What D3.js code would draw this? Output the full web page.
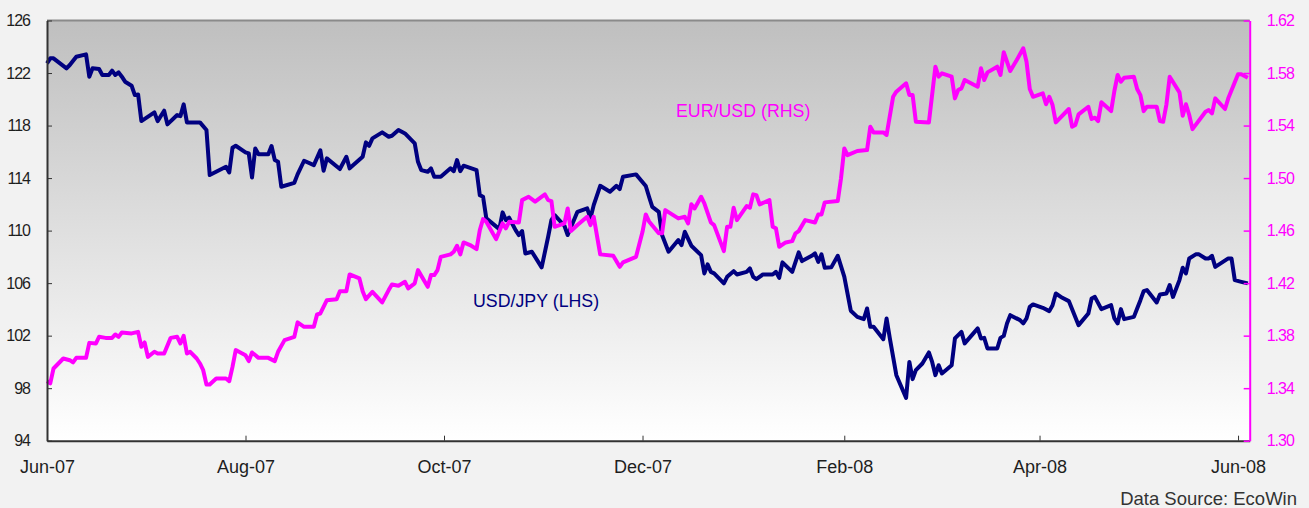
<!DOCTYPE html>
<html>
<head>
<meta charset="utf-8">
<script src="https://cdn.jsdelivr.net/npm/d3@7"></script>
<style>
  html, body { margin: 0; padding: 0; background: #f2f2f2; }
  svg { display: block; font-family: "Liberation Sans", Arial, sans-serif; }
  .axis text { fill: #1e1e1e; }
  .axis path, .axis line { stroke: #333; }
</style>
</head>
<body>
<div id="chart"></div>
<script>
// USD/JPY, left axis
var jpyDates = [
  "2007-06-01","2007-06-02","2007-06-03","2007-06-07","2007-06-08","2007-06-10","2007-06-13","2007-06-14","2007-06-15","2007-06-17",
  "2007-06-18","2007-06-20","2007-06-21","2007-06-22","2007-06-23","2007-06-24","2007-06-25","2007-06-27","2007-06-28","2007-06-29",
  "2007-06-30","2007-07-04","2007-07-05","2007-07-07","2007-07-08","2007-07-11","2007-07-12","2007-07-13","2007-07-14","2007-07-18",
  "2007-07-20","2007-07-21","2007-07-26","2007-07-27","2007-07-28","2007-07-29","2007-08-01","2007-08-02","2007-08-03","2007-08-04",
  "2007-08-05","2007-08-08","2007-08-09","2007-08-10","2007-08-11","2007-08-12","2007-08-16","2007-08-17","2007-08-19","2007-08-22",
  "2007-08-24","2007-08-25","2007-08-26","2007-08-30","2007-09-01","2007-09-02","2007-09-06","2007-09-07","2007-09-08","2007-09-09",
  "2007-09-12","2007-09-14","2007-09-15","2007-09-17","2007-09-19","2007-09-22","2007-09-23","2007-09-24","2007-09-26","2007-09-27",
  "2007-09-28","2007-09-30","2007-10-03","2007-10-04","2007-10-05","2007-10-06","2007-10-07","2007-10-11","2007-10-12","2007-10-13",
  "2007-10-14","2007-10-18","2007-10-19","2007-10-20","2007-10-21","2007-10-23","2007-10-24","2007-10-25","2007-10-26","2007-10-28",
  "2007-10-31","2007-11-02","2007-11-03","2007-11-04","2007-11-07","2007-11-08","2007-11-11","2007-11-14","2007-11-15","2007-11-16",
  "2007-11-18","2007-11-21","2007-11-23","2007-11-24","2007-11-25","2007-11-29","2007-11-30","2007-12-02","2007-12-03","2007-12-04",
  "2007-12-06","2007-12-07","2007-12-09","2007-12-12","2007-12-13","2007-12-14","2007-12-16","2007-12-19","2007-12-20","2007-12-21",
  "2007-12-22","2007-12-23","2007-12-26","2007-12-27","2007-12-29","2007-12-30","2008-01-02","2008-01-03","2008-01-04","2008-01-05",
  "2008-01-07","2008-01-10","2008-01-11","2008-01-12","2008-01-13","2008-01-16","2008-01-18","2008-01-19","2008-01-22","2008-01-23",
  "2008-01-24","2008-01-25","2008-01-26","2008-01-28","2008-01-30","2008-02-01","2008-02-03","2008-02-05","2008-02-07","2008-02-08",
  "2008-02-09","2008-02-10","2008-02-13","2008-02-14","2008-02-15","2008-02-17","2008-02-20","2008-02-21","2008-02-22","2008-02-23",
  "2008-02-25","2008-02-27","2008-02-28","2008-02-29","2008-03-01","2008-03-02","2008-03-05","2008-03-06","2008-03-08","2008-03-09",
  "2008-03-13","2008-03-14","2008-03-15","2008-03-16","2008-03-19","2008-03-20","2008-03-21","2008-03-22","2008-03-23","2008-03-26",
  "2008-03-27","2008-03-28","2008-03-29","2008-03-30","2008-04-02","2008-04-04","2008-04-05","2008-04-06","2008-04-08","2008-04-10",
  "2008-04-13","2008-04-16","2008-04-17","2008-04-18","2008-04-20","2008-04-23","2008-04-24","2008-04-25","2008-04-26","2008-04-27",
  "2008-04-30","2008-05-01","2008-05-02","2008-05-03","2008-05-04","2008-05-07","2008-05-08","2008-05-10","2008-05-11","2008-05-12",
  "2008-05-14","2008-05-15","2008-05-16","2008-05-17","2008-05-19","2008-05-20","2008-05-22","2008-05-23","2008-05-24","2008-05-25",
  "2008-05-29","2008-05-30","2008-05-31","2008-06-02","2008-06-04"
];
var jpyValues = [
  122.74,123.12,123.12,122.36,122.61,123.24,123.42,121.72,122.36,122.30,
  121.85,121.85,122.18,121.85,122.05,121.72,121.34,121.03,120.32,120.37,
  118.34,119.00,118.34,119.13,118.09,118.80,118.72,119.61,118.24,118.24,
  117.66,114.23,114.86,114.43,116.31,116.46,115.96,115.88,114.05,116.26,
  115.81,115.81,116.44,115.37,115.24,113.34,113.64,114.28,115.32,114.99,
  116.11,114.56,115.50,114.69,115.62,114.74,115.62,116.72,116.46,117.02,
  117.48,117.15,117.22,117.66,117.40,116.64,115.24,114.61,114.48,114.74,
  114.10,114.10,114.74,114.53,115.37,114.53,114.94,114.60,112.70,112.58,
  110.93,110.11,111.39,110.80,110.98,110.04,109.66,109.96,108.26,108.39,
  107.20,109.53,110.80,111.18,110.37,109.66,111.43,111.69,110.93,111.94,
  113.41,112.96,113.41,113.16,114.10,114.28,113.98,113.40,112.58,111.81,
  111.43,109.66,108.39,109.28,108.90,109.91,108.85,108.13,106.74,107.43,
  106.86,106.74,105.98,106.48,106.91,106.66,106.86,107.12,106.48,106.30,
  106.66,106.66,106.86,106.40,107.58,106.86,108.34,107.68,108.08,108.26,
  107.62,108.19,107.17,107.20,108.08,106.50,103.90,103.43,103.26,104.07,
  102.67,102.67,101.73,103.31,101.79,98.99,97.26,100.00,98.69,99.37,
  99.88,100.72,100.00,98.99,99.75,99.12,99.75,101.79,102.29,101.41,
  102.55,101.79,101.83,101.02,101.02,101.83,101.98,102.93,103.56,103.18,
  102.93,103.31,104.19,104.38,104.12,103.87,104.32,105.21,104.88,104.63,
  102.80,103.69,104.83,104.95,104.02,104.32,103.31,102.93,104.02,103.26,
  103.43,104.07,104.70,105.39,105.47,104.53,105.14,105.21,105.85,104.95,
  106.23,107.17,106.74,107.88,108.19,108.19,107.88,107.88,108.08,107.24,
  107.88,107.88,106.23,106.10,105.98
];

// EUR/USD, right axis
var eurDates = [
  "2007-06-01","2007-06-02","2007-06-03","2007-06-06","2007-06-08","2007-06-09","2007-06-10","2007-06-13","2007-06-14","2007-06-16",
  "2007-06-17","2007-06-19","2007-06-21","2007-06-22","2007-06-23","2007-06-24","2007-06-27","2007-06-29","2007-06-30","2007-07-01",
  "2007-07-02","2007-07-04","2007-07-05","2007-07-07","2007-07-09","2007-07-11","2007-07-12","2007-07-13","2007-07-14","2007-07-15",
  "2007-07-17","2007-07-18","2007-07-19","2007-07-20","2007-07-21","2007-07-23","2007-07-26","2007-07-27","2007-07-28","2007-07-29",
  "2007-08-01","2007-08-02","2007-08-03","2007-08-05","2007-08-08","2007-08-10","2007-08-11","2007-08-13","2007-08-16","2007-08-17",
  "2007-08-19","2007-08-22","2007-08-23","2007-08-24","2007-08-26","2007-08-29","2007-08-30","2007-09-01","2007-09-02","2007-09-05",
  "2007-09-06","2007-09-07","2007-09-09","2007-09-12","2007-09-14","2007-09-15","2007-09-17","2007-09-19","2007-09-20","2007-09-22",
  "2007-09-23","2007-09-26","2007-09-27","2007-09-28","2007-09-29","2007-09-30","2007-10-03","2007-10-04","2007-10-05","2007-10-06",
  "2007-10-07","2007-10-09","2007-10-11","2007-10-12","2007-10-13","2007-10-14","2007-10-17","2007-10-19","2007-10-20","2007-10-21",
  "2007-10-24","2007-10-25","2007-10-27","2007-10-29","2007-11-01","2007-11-02","2007-11-03","2007-11-04","2007-11-07","2007-11-08",
  "2007-11-09","2007-11-11","2007-11-14","2007-11-15","2007-11-16","2007-11-18","2007-11-22","2007-11-24","2007-11-25","2007-11-29",
  "2007-12-01","2007-12-02","2007-12-03","2007-12-06","2007-12-07","2007-12-08","2007-12-12","2007-12-14","2007-12-15","2007-12-16",
  "2007-12-17","2007-12-19","2007-12-20","2007-12-22","2007-12-23","2007-12-26","2007-12-27","2007-12-28","2007-12-29","2007-12-30",
  "2008-01-02","2008-01-03","2008-01-04","2008-01-05","2008-01-06","2008-01-09","2008-01-10","2008-01-11","2008-01-12","2008-01-14",
  "2008-01-16","2008-01-17","2008-01-18","2008-01-20","2008-01-23","2008-01-24","2008-01-25","2008-01-26","2008-01-30","2008-01-31",
  "2008-02-01","2008-02-02","2008-02-05","2008-02-08","2008-02-09","2008-02-10","2008-02-13","2008-02-14","2008-02-16","2008-02-17",
  "2008-02-20","2008-02-21","2008-02-22","2008-02-23","2008-02-27","2008-02-29","2008-03-01","2008-03-02","2008-03-05","2008-03-06",
  "2008-03-07","2008-03-08","2008-03-09","2008-03-13","2008-03-14","2008-03-15","2008-03-16","2008-03-19","2008-03-20","2008-03-21",
  "2008-03-23","2008-03-25","2008-03-27","2008-03-28","2008-03-29","2008-03-30","2008-04-02","2008-04-03","2008-04-04","2008-04-05",
  "2008-04-06","2008-04-10","2008-04-11","2008-04-12","2008-04-13","2008-04-16","2008-04-17","2008-04-18","2008-04-19","2008-04-20",
  "2008-04-23","2008-04-24","2008-04-25","2008-04-26","2008-04-27","2008-04-30","2008-05-01","2008-05-02","2008-05-03","2008-05-04",
  "2008-05-07","2008-05-08","2008-05-09","2008-05-10","2008-05-11","2008-05-14","2008-05-15","2008-05-16","2008-05-17","2008-05-18",
  "2008-05-22","2008-05-23","2008-05-24","2008-05-25","2008-05-28","2008-05-29","2008-06-01","2008-06-02","2008-06-04"
];
var eurValues = [
  1.3453,1.3436,1.3550,1.3626,1.3613,1.3596,1.3631,1.3631,1.3745,1.3740,
  1.3791,1.3783,1.3783,1.3809,1.3791,1.3824,1.3817,1.3829,1.3715,1.3748,
  1.3638,1.3677,1.3664,1.3664,1.3783,1.3791,1.3740,1.3799,1.3664,1.3677,
  1.3626,1.3588,1.3537,1.3428,1.3428,1.3474,1.3474,1.3453,1.3562,1.3690,
  1.3651,1.3606,1.3672,1.3631,1.3631,1.3606,1.3677,1.3766,1.3791,1.3901,
  1.3867,1.3867,1.3962,1.3969,1.4070,1.4078,1.4139,1.4139,1.4266,1.4236,
  1.4139,1.4078,1.4134,1.4053,1.4147,1.4190,1.4180,1.4210,1.4160,1.4198,
  1.4299,1.4172,1.4261,1.4261,1.4299,1.4400,1.4419,1.4439,1.4484,1.4419,
  1.4510,1.4490,1.4459,1.4604,1.4688,1.4667,1.4535,1.4655,1.4617,1.4667,
  1.4662,1.4832,1.4858,1.4820,1.4876,1.4832,1.4825,1.4629,1.4655,1.4769,
  1.4596,1.4642,1.4705,1.4642,1.4705,1.4419,1.4408,1.4324,1.4358,1.4400,
  1.4591,1.4723,1.4670,1.4579,1.4579,1.4756,1.4693,1.4705,1.4655,1.4800,
  1.4769,1.4858,1.4807,1.4662,1.4642,1.4444,1.4629,1.4629,1.4774,1.4680,
  1.4787,1.4774,1.4876,1.4870,1.4800,1.4832,1.4629,1.4617,1.4477,1.4510,
  1.4520,1.4579,1.4596,1.4680,1.4662,1.4723,1.4723,1.4815,1.4825,1.4998,
  1.5226,1.5175,1.5206,1.5213,1.5391,1.5348,1.5348,1.5328,1.5619,1.5658,
  1.5722,1.5632,1.5632,1.5429,1.5424,1.5848,1.5772,1.5798,1.5772,1.5607,
  1.5670,1.5683,1.5747,1.5696,1.5836,1.5747,1.5805,1.5848,1.5785,1.5958,
  1.5815,1.5899,1.5988,1.5886,1.5678,1.5619,1.5645,1.5562,1.5619,1.5556,
  1.5424,1.5526,1.5391,1.5404,1.5485,1.5543,1.5450,1.5460,1.5434,1.5577,
  1.5510,1.5663,1.5785,1.5734,1.5764,1.5772,1.5678,1.5632,1.5510,1.5543,
  1.5543,1.5434,1.5429,1.5562,1.5772,1.5653,1.5475,1.5562,1.5480,1.5373,
  1.5505,1.5518,1.5493,1.5607,1.5526,1.5607,1.5790,1.5790,1.5764
];

var leftTicks  = [94, 98, 102, 106, 110, 114, 118, 122, 126];
var rightTicks = [1.30, 1.34, 1.38, 1.42, 1.46, 1.50, 1.54, 1.58, 1.62];
var monthTicks = ["2007-06-01","2007-08-01","2007-10-01","2007-12-01","2008-02-01","2008-04-01","2008-06-01"];

const width = 1309;
const height = 508;
const plotLeft = 47, plotRight = 1249.7, plotTop = 20.5, plotBottom = 440.7;

var parseDate = d3.timeParse("%Y-%m-%d");

var jpyData = jpyDates.map(function(d, i) { return { date: parseDate(d), value: jpyValues[i] }; });
var eurData = eurDates.map(function(d, i) { return { date: parseDate(d), value: eurValues[i] }; });

var xScale = d3.scaleTime()
    .domain([new Date(2007, 5, 1), new Date(2008, 5, 4, 14)])
    .range([plotLeft, plotRight]);
var yLeft = d3.scaleLinear().domain([94, 126]).range([plotBottom, plotTop]);
var yRight = d3.scaleLinear().domain([1.30, 1.62]).range([plotBottom, plotTop]);

var svg = d3.select("#chart").append("svg")
    .attr("width", width)
    .attr("height", height);

// grey to white background of the plot area
var grad = svg.append("defs").append("linearGradient")
    .attr("id", "bg").attr("x1", 0).attr("y1", 0).attr("x2", 0).attr("y2", 1);
grad.append("stop").attr("offset", "0%").attr("stop-color", "#bfbfbf");
grad.append("stop").attr("offset", "100%").attr("stop-color", "#ffffff");

svg.append("rect")
    .attr("x", plotLeft).attr("y", plotTop)
    .attr("width", plotRight - plotLeft).attr("height", plotBottom - plotTop)
    .attr("fill", "url(#bg)");

// top border
svg.append("line")
    .attr("x1", plotLeft).attr("x2", plotRight)
    .attr("y1", plotTop).attr("y2", plotTop)
    .attr("stroke", "#8a8a8a").attr("stroke-width", 2);

// lines
var jpyLine = d3.line()
    .x(function(d) { return xScale(d.date); })
    .y(function(d) { return yLeft(d.value); });
var eurLine = d3.line()
    .x(function(d) { return xScale(d.date); })
    .y(function(d) { return yRight(d.value); });

svg.append("path")
    .datum(jpyData)
    .attr("d", jpyLine)
    .attr("fill", "none")
    .attr("stroke", "#000080")
    .attr("stroke-width", 4)
    .attr("stroke-linejoin", "round");

svg.append("path")
    .datum(eurData)
    .attr("d", eurLine)
    .attr("fill", "none")
    .attr("stroke", "#ff00ff")
    .attr("stroke-width", 4)
    .attr("stroke-linejoin", "round");

// axes
var xAxis = d3.axisBottom(xScale)
    .tickValues(monthTicks.map(parseDate))
    .tickFormat(d3.timeFormat("%b-%y"))
    .tickSizeInner(-5).tickSizeOuter(0).tickPadding(20);

var gx = svg.append("g")
    .attr("class", "axis")
    .attr("transform", "translate(0," + plotBottom + ")")
    .call(xAxis);
gx.select(".domain").attr("stroke-width", 2);
gx.selectAll("text").style("font-size", "18px");

var leftAxis = d3.axisLeft(yLeft)
    .tickValues(leftTicks)
    .tickFormat(d3.format("d"))
    .tickSizeInner(-5).tickSizeOuter(0).tickPadding(17);

var gl = svg.append("g")
    .attr("class", "axis")
    .attr("transform", "translate(" + plotLeft + ",0)")
    .call(leftAxis);
gl.select(".domain").attr("stroke-width", 2);
gl.selectAll("text").style("font-size", "16px").style("letter-spacing", "-1px");

var rightAxis = d3.axisRight(yRight)
    .tickValues(rightTicks)
    .tickFormat(d3.format(".2f"))
    .tickSizeInner(-6).tickSizeOuter(0).tickPadding(17);

var gr = svg.append("g")
    .attr("transform", "translate(" + plotRight + ",0)")
    .call(rightAxis);
gr.select(".domain").attr("stroke", "#ff00ff").attr("stroke-width", 2);
gr.selectAll("line").attr("stroke", "#ff00ff").attr("stroke-width", 1.5);
gr.selectAll("text")
    .attr("fill", "#ff00ff")
    .style("font-size", "16px")
    .style("letter-spacing", "-1px");

// series labels
svg.append("text")
    .attr("x", 676).attr("y", 117)
    .attr("fill", "#ff00ff")
    .style("font-size", "17.8px")
    .text("EUR/USD (RHS)");

svg.append("text")
    .attr("x", 473).attr("y", 307)
    .attr("fill", "#000080")
    .style("font-size", "17.8px")
    .text("USD/JPY (LHS)");

svg.append("text")
    .attr("x", 1297).attr("y", 505)
    .attr("text-anchor", "end")
    .attr("fill", "#333")
    .style("font-size", "18.5px")
    .text("Data Source: EcoWin");
</script>
</body>
</html>
